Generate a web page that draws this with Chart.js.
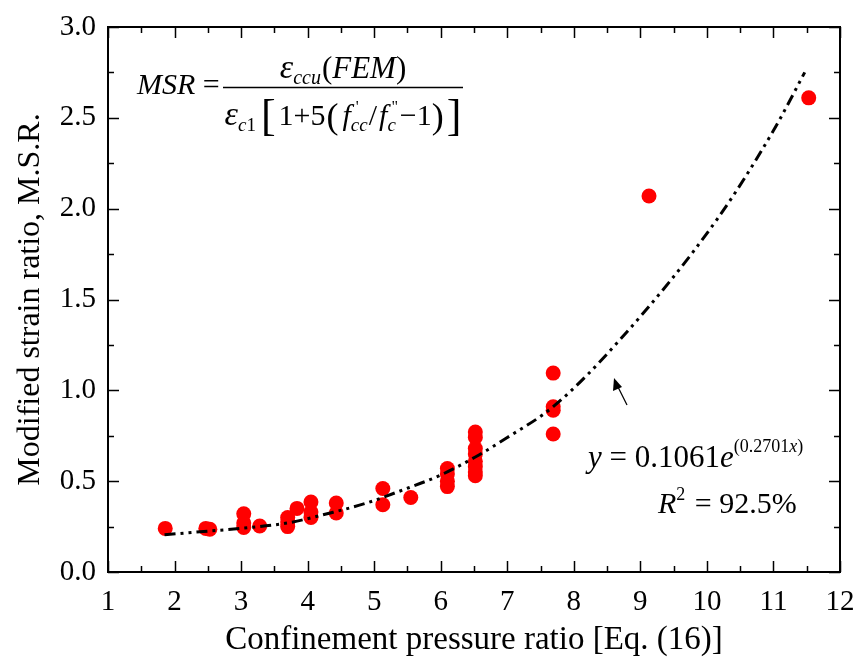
<!DOCTYPE html>
<html>
<head>
<meta charset="utf-8">
<script src="https://cdn.jsdelivr.net/npm/chart.js@4.4.1/dist/chart.umd.min.js"></script>
<style>
  html, body { margin: 0; padding: 0; background: #fff; }
  #wrap { width: 853px; height: 660px; }
</style>
</head>
<body>
<div id="wrap"><canvas id="chart" width="853" height="660"></canvas></div>
<script>
// MSR vs confinement pressure ratio, with fitted exponential trend

// FEM results
const pressureRatio = [1.86, 2.47, 2.53, 3.04, 3.04, 3.04, 3.28, 3.70, 3.70, 3.70, 3.84,
  4.05, 4.05, 4.05, 4.43, 4.43, 5.13, 5.13, 5.55, 6.10, 6.10, 6.10, 6.10,
  6.52, 6.52, 6.52, 6.52, 6.52, 6.52, 6.52, 6.52, 7.69, 7.69, 7.69, 7.69, 9.13, 11.53];
const strainRatio = [0.24, 0.24, 0.235, 0.32, 0.27, 0.245, 0.253, 0.30, 0.275, 0.25, 0.35,
  0.385, 0.33, 0.30, 0.38, 0.325, 0.46, 0.37, 0.41, 0.57, 0.54, 0.50, 0.47,
  0.77, 0.74, 0.68, 0.65, 0.61, 0.58, 0.55, 0.53, 1.095, 0.91, 0.89, 0.76, 2.07, 2.61];

// trend line as drawn
const fitX = [1.85, 2.5, 3.0, 3.7, 4.34, 4.89, 5.39, 6.0, 6.52, 7.0, 7.69, 8.69, 10.15, 11.0, 11.47];
const fitY = [0.205, 0.225, 0.24, 0.27, 0.325, 0.38, 0.446, 0.534, 0.633, 0.74, 0.91, 1.277, 1.94, 2.43, 2.75];

const xTicks = [1, 2, 3, 4, 5, 6, 7, 8, 9, 10, 11, 12];
const yTicks = ['0.0', '0.5', '1.0', '1.5', '2.0', '2.5', '3.0'];

const SERIF = '"Liberation Serif", "Times New Roman", serif';
const it = s => `italic ${s}px ${SERIF}`;
const up = s => `${s}px ${SERIF}`;

function runsWidth(ctx, runs) {
  let w = 0;
  runs.forEach(r => { ctx.font = r.f; if (!r.stay) w += ctx.measureText(r.t).width + (r.gap || 0); });
  return w;
}

function drawRuns(ctx, runs, x, base) {
  runs.forEach(r => {
    ctx.font = r.f;
    ctx.fillText(r.t, x + (r.dx || 0), base + (r.dy || 0));
    if (!r.stay) x += ctx.measureText(r.t).width + (r.gap || 0);
  });
}

const frameAndText = {
  id: 'frameAndText',
  afterDatasetsDraw(chart) {
    const { ctx, chartArea: a, scales: { x, y } } = chart;
    ctx.save();
    ctx.strokeStyle = '#000';
    ctx.lineWidth = 2;
    ctx.strokeRect(a.left, a.top, a.right - a.left, a.bottom - a.top);

    // inward ticks on all four sides
    ctx.lineWidth = 1.5;
    ctx.beginPath();
    for (let v = 1; v <= 12; v += 0.5) {
      const px = Math.round(x.getPixelForValue(v)) + 0.5;
      const len = Number.isInteger(v) ? 11 : 6;
      ctx.moveTo(px, a.bottom); ctx.lineTo(px, a.bottom - len);
      ctx.moveTo(px, a.top); ctx.lineTo(px, a.top + len);
    }
    for (let v = 0; v <= 3; v += 0.25) {
      const py = Math.round(y.getPixelForValue(v)) + 0.5;
      const len = (v * 2) % 1 === 0 ? 11 : 6;
      ctx.moveTo(a.left, py); ctx.lineTo(a.left + len, py);
      ctx.moveTo(a.right, py); ctx.lineTo(a.right - len, py);
    }
    ctx.stroke();

    ctx.fillStyle = '#000';
    ctx.textBaseline = 'alphabetic';
    ctx.textAlign = 'left';

    // MSR definition
    drawRuns(ctx, [
      { t: 'MSR', f: it(30) },
      { t: ' = ', f: up(30) }
    ], 137, 94);

    const num = [
      { t: 'ε', f: it(34) },
      { t: 'ccu', f: it(20), dy: 6, gap: 1 },
      { t: '(', f: up(31) },
      { t: 'FEM', f: it(31) },
      { t: ')', f: up(31) }
    ];
    const den = [
      { t: 'ε', f: it(34) },
      { t: 'c', f: it(19), dy: 6 },
      { t: '1', f: up(19), dy: 6, gap: 5 },
      { t: '[', f: up(44), dy: 5, gap: 3 },
      { t: '1+5', f: up(30), gap: 1 },
      { t: '(', f: up(36), dy: 3, gap: 4 },
      { t: 'f', f: it(30) },
      { t: '\'', f: up(16), dx: 5, dy: -13, stay: true },
      { t: 'cc', f: it(19), dy: 6, gap: 1 },
      { t: '/', f: up(30), gap: 2 },
      { t: 'f', f: it(30) },
      { t: '"', f: up(16), dx: 4, dy: -13, stay: true },
      { t: 'c', f: it(19), dy: 6, gap: 4 },
      { t: '−1', f: up(30) },
      { t: ')', f: up(36), dy: 3, gap: 3 },
      { t: ']', f: up(44), dy: 5 }
    ];
    const cx = 343;
    drawRuns(ctx, num, cx - runsWidth(ctx, num) / 2, 78);
    drawRuns(ctx, den, cx - runsWidth(ctx, den) / 2, 125);
    ctx.lineWidth = 1.3;
    ctx.beginPath();
    ctx.moveTo(223, 87.5); ctx.lineTo(463, 87.5);
    ctx.stroke();

    // fitted equation
    drawRuns(ctx, [
      { t: 'y', f: it(31) },
      { t: ' = 0.1061', f: up(31) },
      { t: 'e', f: it(31) },
      { t: '(0.2701', f: up(18), dy: -15 },
      { t: 'x', f: it(18), dy: -15 },
      { t: ')', f: up(18), dy: -15 }
    ], 588, 467);
    drawRuns(ctx, [
      { t: 'R', f: it(30) },
      { t: '2', f: up(18), dy: -13, gap: 2 },
      { t: ' = 92.5%', f: up(30) }
    ], 658, 513);

    // arrow to the curve
    ctx.lineWidth = 1.3;
    ctx.beginPath();
    ctx.moveTo(627, 405); ctx.lineTo(617, 385);
    ctx.stroke();
    ctx.beginPath();
    ctx.moveTo(614, 378); ctx.lineTo(613, 391); ctx.lineTo(622, 387);
    ctx.closePath();
    ctx.fill();
    ctx.restore();
  }
};

new Chart(document.getElementById('chart'), {
  type: 'scatter',
  data: {
    datasets: [{
      label: 'Fit',
      data: fitX.map((v, i) => ({ x: v, y: fitY[i] })),
      showLine: true,
      borderColor: '#000',
      borderWidth: 3,
      borderDash: [11, 5, 3, 5, 3, 5],
      pointRadius: 0,
      cubicInterpolationMode: 'monotone',
      order: 1
    }, {
      label: 'FEM',
      data: pressureRatio.map((v, i) => ({ x: v, y: strainRatio[i] })),
      backgroundColor: '#ff0000',
      borderColor: '#ff0000',
      pointRadius: 7.5,
      borderWidth: 0,
      order: 2
    }]
  },
  options: {
    responsive: false,
    animation: false,
    layout: { padding: { top: 27, right: 13, left: 0, bottom: 0 } },
    plugins: { legend: { display: false }, tooltip: { enabled: false } },
    scales: {
      x: {
        type: 'linear', min: 1, max: 12,
        afterFit: s => { s.height = 88; s.paddingLeft = 0; s.paddingRight = 0; },
        afterBuildTicks: s => { s.ticks = xTicks.map(v => ({ value: v })); },
        grid: { display: false, drawTicks: false },
        border: { display: false },
        ticks: { color: '#000', padding: 13, font: { family: SERIF, size: 29 }, maxRotation: 0 },
        title: { display: true, text: 'Confinement pressure ratio [Eq. (16)]', color: '#000',
          font: { family: SERIF, size: 33 }, padding: { top: 0, bottom: 0 } }
      },
      y: {
        type: 'linear', min: 0, max: 3,
        afterFit: s => { s.width = 108; s.paddingTop = 0; s.paddingBottom = 0; },
        afterBuildTicks: s => { s.ticks = yTicks.map(v => ({ value: parseFloat(v) })); },
        grid: { display: false, drawTicks: false },
        border: { display: false },
        ticks: { color: '#000', padding: 12, font: { family: SERIF, size: 29 },
          callback: v => v.toFixed(1) },
        title: { display: true, text: 'Modified strain ratio, M.S.R.', color: '#000',
          font: { family: SERIF, size: 32 }, padding: { top: 11, bottom: 0 } }
      }
    }
  },
  plugins: [frameAndText]
});
</script>
</body>
</html>
